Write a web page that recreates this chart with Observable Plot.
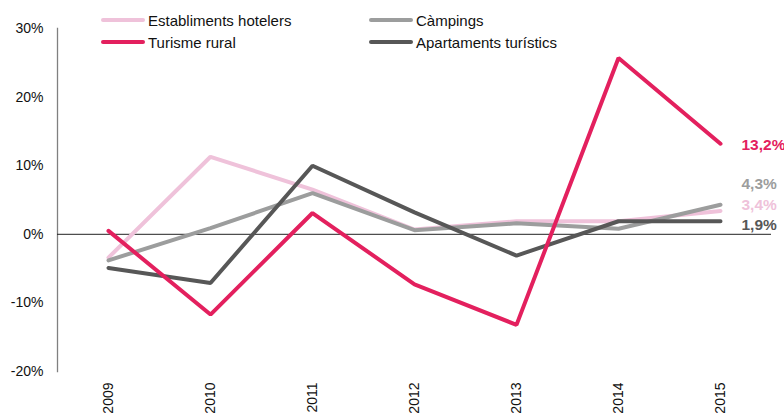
<!DOCTYPE html>
<html><head><meta charset="utf-8">
<script src="https://cdn.jsdelivr.net/npm/d3@7"></script>
<script src="https://cdn.jsdelivr.net/npm/@observablehq/plot@0.6"></script>
<style>
body{margin:0;background:#fff;font-family:"Liberation Sans",Arial,sans-serif;}
#wrap{position:relative;width:784px;height:414px;overflow:hidden;}
#wrap svg{position:absolute;left:0;top:0;}
.lg{position:absolute;font-size:15px;color:#111;display:flex;align-items:center;white-space:nowrap;line-height:1;}
.lg .sw{display:inline-block;width:44px;height:4px;border-radius:2px;margin-right:3px;}
</style></head><body><div id="wrap"></div>
<script>
const years = [2009, 2010, 2011, 2012, 2013, 2014, 2015];
const series = ["Establiments hotelers", "Càmpings", "Turisme rural", "Apartaments turístics"];
const hotelers    = [-3.4, 11.3, 6.5, 0.7, 1.9, 1.9, 3.4];
const campings    = [-3.8, 0.9, 6.0, 0.6, 1.6, 0.8, 4.3];
const rural       = [0.5, -11.7, 3.1, -7.3, -13.2, 25.7, 13.2];
const apartaments = [-4.9, -7.1, 10.0, 3.2, -3.1, 1.9, 1.9];
const yTicks = [-20, -10, 0, 10, 20, 30];
const colors = ["#efc2da", "#9c9d9d", "#e3205e", "#575757"];

const valuesBySeries = [hotelers, campings, rural, apartaments];
const data = [];
series.forEach((s, i) => years.forEach((yr, j) => data.push({series: s, year: yr, value: valuesBySeries[i][j]})));
const drawOrder = [0, 1, 3, 2];
const ordered = drawOrder.flatMap(i => data.filter(d => d.series === series[i]));
const last = series.map((s, i) => ({series: s, year: years[years.length - 1], value: valuesBySeries[i][years.length - 1]}));
const labelShift = {"Establiments hotelers": -6, "Càmpings": -21, "Turisme rural": 1.5, "Apartaments turístics": 4};

const endLabels = last.map(d => Plot.text([d], {
  x: "year", y: "value", fill: "series",
  text: e => e.value.toFixed(1).replace(".", ",") + "%",
  textAnchor: "start", dx: 21, dy: labelShift[d.series], fontWeight: "bold", fontSize: 15.5
}));

const chart = Plot.plot({
  width: 784, height: 414,
  marginLeft: 57, marginRight: 13, marginTop: 28, marginBottom: 43,
  style: {fontFamily: "Liberation Sans, Arial, sans-serif", fontSize: "14px", color: "#111", background: "transparent"},
  x: {type: "point", domain: years, padding: 0.5},
  y: {domain: [-20, 30]},
  color: {domain: series, range: colors},
  marks: [
    Plot.axisY({ticks: yTicks, tickSize: 0, tickPadding: 14, tickFormat: d => d + "%", fontSize: 14, label: null}),
    Plot.axisX({tickSize: 0, tickRotate: -90, tickPadding: 11, fontSize: 14, tickFormat: d => String(d), label: null}),
    Plot.frame({anchor: "left", stroke: "#808080", strokeWidth: 1.3}),
    Plot.ruleY([0], {stroke: "#222", strokeWidth: 1}),
    Plot.line(ordered, {x: "year", y: "value", z: "series", stroke: "series", strokeWidth: 4, strokeLinejoin: "miter", strokeLinecap: "round"}),
    ...endLabels
  ]
});
const wrap = document.getElementById("wrap");
wrap.appendChild(chart);

series.forEach((s, i) => {
  const col = i === 0 || i === 2 ? 0 : 1;
  const row = i < 2 ? 0 : 1;
  const el = document.createElement("div");
  el.className = "lg";
  el.style.left = (col === 0 ? 101 : 369) + "px";
  el.style.top = (row === 0 ? 11 : 33) + "px";
  el.style.height = "18px";
  const sw = document.createElement("span");
  sw.className = "sw";
  sw.style.background = colors[i];
  el.appendChild(sw);
  const tx = document.createElement("span");
  tx.textContent = s;
  el.appendChild(tx);
  wrap.appendChild(el);
});
</script></body></html>
